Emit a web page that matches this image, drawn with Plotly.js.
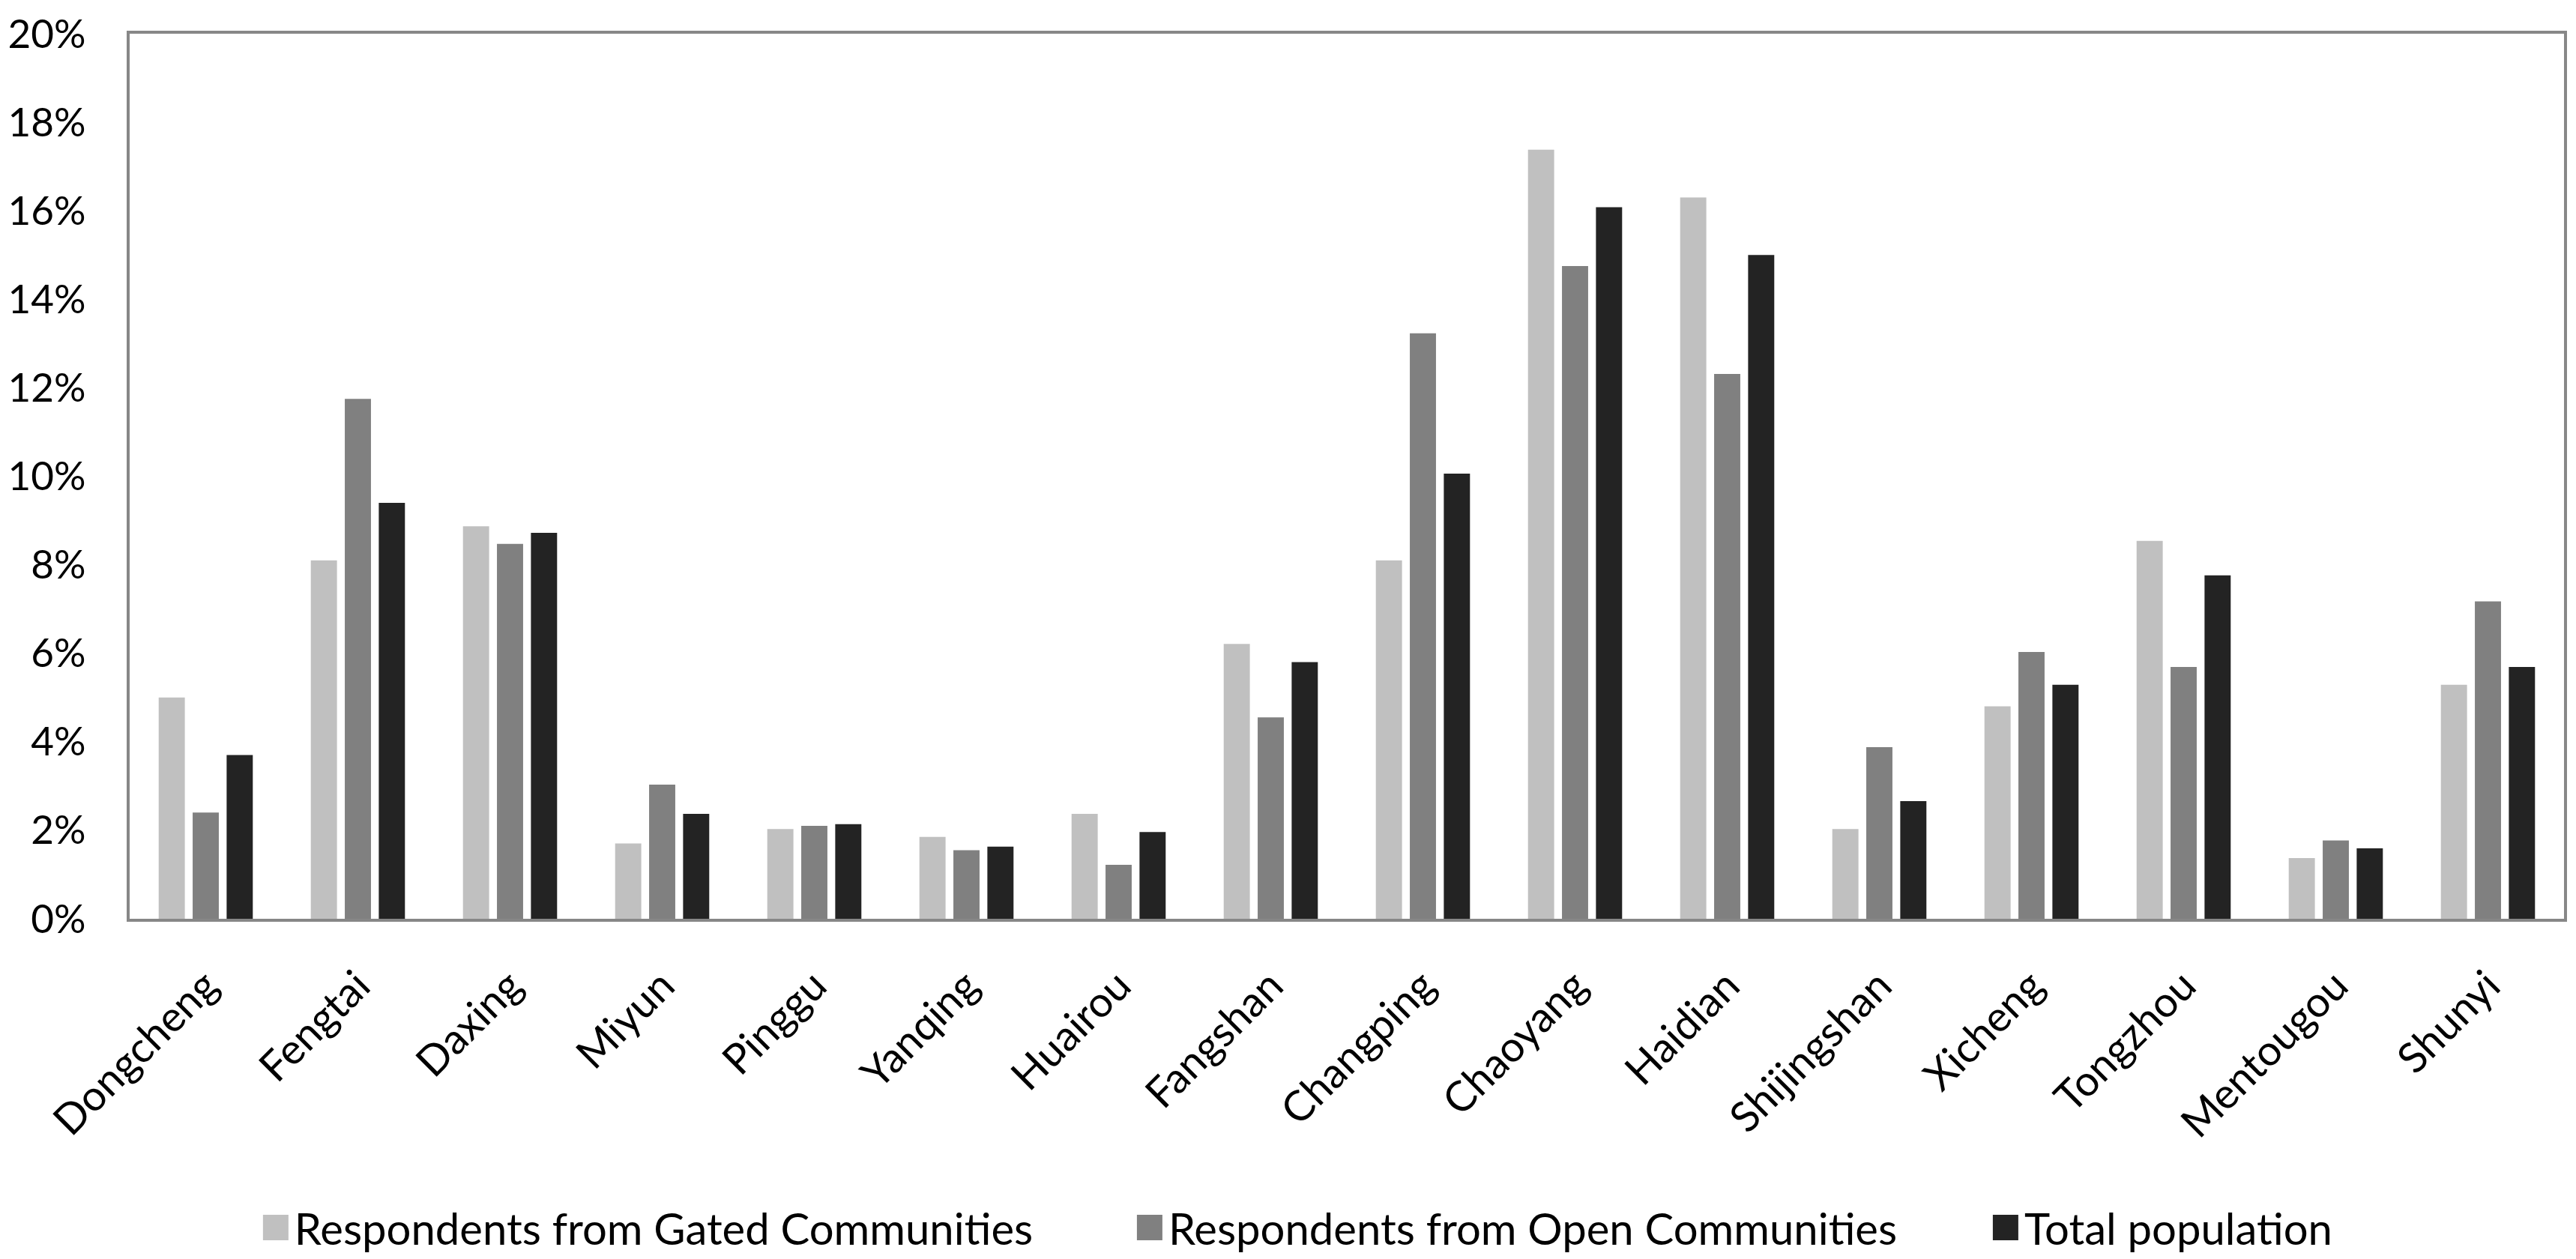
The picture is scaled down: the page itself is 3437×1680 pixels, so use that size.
<!DOCTYPE html>
<html>
<head>
<meta charset="utf-8">
<script src="https://cdn.plot.ly/plotly-3.0.1.min.js"></script>
<style>html,body{margin:0;padding:0;background:#fff;}#chart{width:3437px;height:1680px;}</style>
</head>
<body>
<div id="chart"></div>
<script>
var districts = ["Dongcheng","Fengtai","Daxing","Miyun","Pinggu","Yanqing","Huairou","Fangshan","Changping","Chaoyang","Haidian","Shijingshan","Xicheng","Tongzhou","Mentougou","Shunyi"];
var gated = [5.0, 8.1, 8.87, 1.7, 2.03, 1.85, 2.37, 6.21, 8.1, 17.38, 16.3, 2.03, 4.8, 8.54, 1.37, 5.29];
var open  = [2.4, 11.75, 8.47, 3.03, 2.1, 1.55, 1.22, 4.55, 13.23, 14.75, 12.31, 3.88, 6.03, 5.69, 1.77, 7.17];
var total = [3.7, 9.4, 8.72, 2.37, 2.14, 1.63, 1.96, 5.8, 10.06, 16.08, 15.0, 2.66, 5.29, 7.76, 1.59, 5.69];
var seriesNames = ["Respondents from Gated Communities","Respondents from Open Communities","Total population"];
var yTicks = [0,2,4,6,8,10,12,14,16,18,20];

var FONT = "Lato, 'Open Sans', sans-serif";
var traces = [
  {type:"bar", name:seriesNames[0], x:districts, y:gated, marker:{color:"#c0c0c0"}, legend:"legend"},
  {type:"bar", name:seriesNames[1], x:districts, y:open,  marker:{color:"#808080"}, legend:"legend2"},
  {type:"bar", name:seriesNames[2], x:districts, y:total, marker:{color:"#232323"}, legend:"legend3"}
];
function leg(x){
  return {orientation:"h", x:x, xanchor:"left", y:-0.374, yanchor:"bottom",
          font:{family:FONT, size:58, color:"#000"}, itemwidth:40, bgcolor:"rgba(0,0,0,0)", borderwidth:0};
}
var layout = {
  width:3437, height:1680,
  margin:{l:173, r:16, t:45, b:449},
  paper_bgcolor:"#fff", plot_bgcolor:"#fff",
  font:{family:FONT, size:54, color:"#000"},
  barmode:"group", bargap:0.33, bargroupgap:0.23,
  showlegend:true,
  legend:leg(0.0523), legend2:leg(0.4113), legend3:leg(0.7629),
  xaxis:{type:"category", showline:true, mirror:true, linecolor:"#878787", linewidth:4,
         showgrid:false, ticks:"", tickangle:-45, ticklabelstandoff:30,
         tickfont:{family:FONT, size:56, color:"#000"}},
  yaxis:{range:[0,20], tickvals:yTicks, ticktext:yTicks.map(function(v){return v+"%";}),
         showline:true, mirror:true, linecolor:"#878787", linewidth:4,
         showgrid:false, zeroline:false, ticks:"", ticklabelstandoff:44,
         tickfont:{family:FONT, size:53, color:"#000"}}
};
Plotly.newPlot("chart", traces, layout, {staticPlot:true}).then(function(gd){
  var pts = gd.querySelectorAll(".legendpoints path");
  pts.forEach(function(p){ p.setAttribute("d","M17,17H-17V-17H17Z"); p.style.strokeWidth="0"; });
  ["legend","legend2","legend3"].forEach(function(c){
    var g = gd.querySelector("g." + c);
    if(!g) return;
    var t = g.getAttribute("transform") || "";
    var m = /translate\(\s*([-\d.e]+)[ ,]+([-\d.e]+)\s*\)/.exec(t);
    if(m) g.setAttribute("transform", "translate(" + m[1] + "," + (parseFloat(m[2]) + 15) + ")");
  });
});
</script>
</body>
</html>
